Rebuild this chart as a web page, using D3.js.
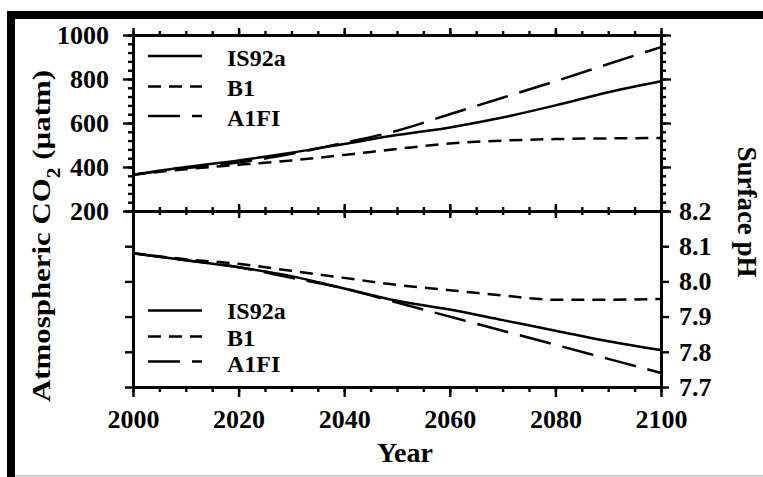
<!DOCTYPE html>
<html>
<head>
<meta charset="utf-8">
<script src="https://cdn.jsdelivr.net/npm/d3@7"></script>
<style>
  body { margin: 0; background: #fff; }
  svg text { font-family: "Liberation Serif", "Times New Roman", serif; font-weight: bold; fill: #000; }
</style>
</head>
<body>
<div id="chart"></div>
<script>
// data
const years = [2000, 2010, 2020, 2030, 2040, 2050, 2060, 2070, 2080, 2090, 2100];
const co2IS92a = [365, 400, 430, 465, 505, 545, 580, 625, 680, 740, 790];
const co2B1    = [365, 390, 410, 430, 455, 482, 507, 520, 527, 530, 532];
const co2A1FI  = [365, 395, 420, 460, 510, 565, 640, 715, 790, 868, 945];
const phIS92a  = [8.08, 8.06, 8.04, 8.015, 7.98, 7.945, 7.92, 7.89, 7.86, 7.83, 7.805];
const phB1     = [8.08, 8.063, 8.05, 8.03, 8.01, 7.99, 7.975, 7.96, 7.948, 7.948, 7.95];
const phA1FI   = [8.08, 8.06, 8.04, 8.01, 7.98, 7.94, 7.90, 7.86, 7.82, 7.78, 7.74];
const seriesNames = ["IS92a", "B1", "A1FI"];
const dashes = { IS92a: null, B1: "13,8", A1FI: "32,12" };
const co2Ticks = [200, 400, 600, 800, 1000];
const phTicks = [7.7, 7.8, 7.9, 8.0, 8.1, 8.2];
const yearTicks = [2000, 2020, 2040, 2060, 2080, 2100];

const W = 763, H = 477;
const svg = d3.select("#chart").append("svg").attr("width", W).attr("height", H);

// picture frame
svg.append("rect").attr("x", 7).attr("y", 11).attr("width", 8).attr("height", H - 11).attr("fill", "#000");
svg.append("rect").attr("x", 7).attr("y", 11).attr("width", W - 7).attr("height", 8).attr("fill", "#000");
svg.append("rect").attr("x", 15).attr("y", 475).attr("width", W - 15).attr("height", 2).attr("fill", "#d0d0d0");

const x = d3.scaleLinear().domain([2000, 2100]).range([133, 661]);
const yCO2 = d3.scaleLinear().domain([200, 1000]).range([211, 35]);
const yPH = d3.scaleLinear().domain([7.7, 8.2]).range([387, 211]);

const minorYears = d3.range(2000, 2101, 5);
const minorCO2 = d3.range(200, 1001, 40);

function drawAxis(gen, tx, ty, opts = {}) {
    const g = svg.append("g").attr("transform", `translate(${tx},${ty})`).call(gen);
    g.selectAll(".domain").attr("stroke", "#000").attr("stroke-width", 3);
    g.selectAll(".tick line").attr("stroke", "#000").attr("stroke-width", 2.4);
    g.selectAll(".tick text").style("font-size", (opts.fs || 26) + "px");
    if (opts.noDomain) g.select(".domain").remove();
    return g;
}

// top panel
drawAxis(d3.axisLeft(yCO2).tickValues(minorCO2).tickSize(5).tickFormat(""), 133, 0, { noDomain: true });
drawAxis(d3.axisLeft(yCO2).tickValues(co2Ticks).tickSize(10).tickSizeOuter(0).tickPadding(14).tickFormat(d3.format("d")), 133, 0);
drawAxis(d3.axisRight(yCO2).tickValues(minorCO2).tickSize(5).tickFormat(""), 661, 0, { noDomain: true });
drawAxis(d3.axisRight(yCO2).tickValues(co2Ticks).tickSize(10).tickSizeOuter(0).tickFormat(""), 661, 0);
drawAxis(d3.axisTop(x).tickValues(minorYears).tickSize(4).tickSizeOuter(0).tickFormat(""), 0, 35);
drawAxis(d3.axisTop(x).tickValues(yearTicks).tickSize(7).tickFormat(""), 0, 35, { noDomain: true });

// shared middle line, ticks on both sides
drawAxis(d3.axisTop(x).tickValues(minorYears).tickSize(4).tickSizeOuter(0).tickFormat(""), 0, 211);
drawAxis(d3.axisBottom(x).tickValues(minorYears).tickSize(4).tickFormat(""), 0, 211, { noDomain: true });
drawAxis(d3.axisTop(x).tickValues(yearTicks).tickSize(7).tickFormat(""), 0, 211, { noDomain: true });
drawAxis(d3.axisBottom(x).tickValues(yearTicks).tickSize(7).tickFormat(""), 0, 211, { noDomain: true });

// bottom panel
drawAxis(d3.axisLeft(yPH).tickValues(phTicks).tickSize(8).tickSizeOuter(0).tickFormat(""), 133, 0);
drawAxis(d3.axisRight(yPH).tickValues(phTicks).tickSize(8).tickSizeOuter(0).tickPadding(10).tickFormat(d3.format(".1f")), 661, 0);
drawAxis(d3.axisBottom(x).tickValues(minorYears).tickSize(5).tickSizeOuter(0).tickFormat(""), 0, 387);
drawAxis(d3.axisBottom(x).tickValues(yearTicks).tickSize(10).tickPadding(13).tickFormat(d3.format("d")), 0, 387, { noDomain: true });

// curves
const co2Data = { IS92a: co2IS92a, B1: co2B1, A1FI: co2A1FI };
const phData = { IS92a: phIS92a, B1: phB1, A1FI: phA1FI };

function drawSeries(values, yScale, name) {
    const line = d3.line()
        .x((d, i) => x(years[i]))
        .y(d => yScale(d))
        .curve(d3.curveMonotoneX);
    svg.append("path")
        .datum(values)
        .attr("d", line)
        .attr("fill", "none")
        .attr("stroke", "#000")
        .attr("stroke-width", 2.5)
        .attr("stroke-dasharray", dashes[name]);
}
seriesNames.forEach(n => drawSeries(co2Data[n], yCO2, n));
seriesNames.forEach(n => drawSeries(phData[n], yPH, n));

// legends
function drawLegend(lineYs, textYs) {
    seriesNames.forEach((n, i) => {
        svg.append("line")
            .attr("x1", 148).attr("x2", 202)
            .attr("y1", lineYs[i]).attr("y2", lineYs[i])
            .attr("stroke", "#000").attr("stroke-width", 2.5)
            .attr("stroke-dasharray", dashes[n]);
        svg.append("text")
            .attr("x", 227).attr("y", textYs[i])
            .style("font-size", "24px")
            .text(n);
    });
}
drawLegend([56, 86.5, 116], [66, 96, 126]);
drawLegend([310.5, 336.5, 361.5], [319, 346, 372]);

// axis titles
const yTitle = svg.append("text")
    .attr("transform", "translate(50,236) rotate(-90)")
    .attr("text-anchor", "middle")
    .attr("textLength", 332)
    .attr("lengthAdjust", "spacingAndGlyphs")
    .style("font-size", "26px");
yTitle.append("tspan").text("Atmospheric CO");
yTitle.append("tspan").attr("baseline-shift", "sub").style("font-size", "18px").text("2");
yTitle.append("tspan").text(" (µatm)");

svg.append("text")
    .attr("transform", "translate(738,212) rotate(90)")
    .attr("text-anchor", "middle")
    .style("font-size", "27px")
    .text("Surface pH");

svg.append("text")
    .attr("x", 405).attr("y", 462)
    .attr("text-anchor", "middle")
    .style("font-size", "28px")
    .text("Year");
</script>
</body>
</html>
